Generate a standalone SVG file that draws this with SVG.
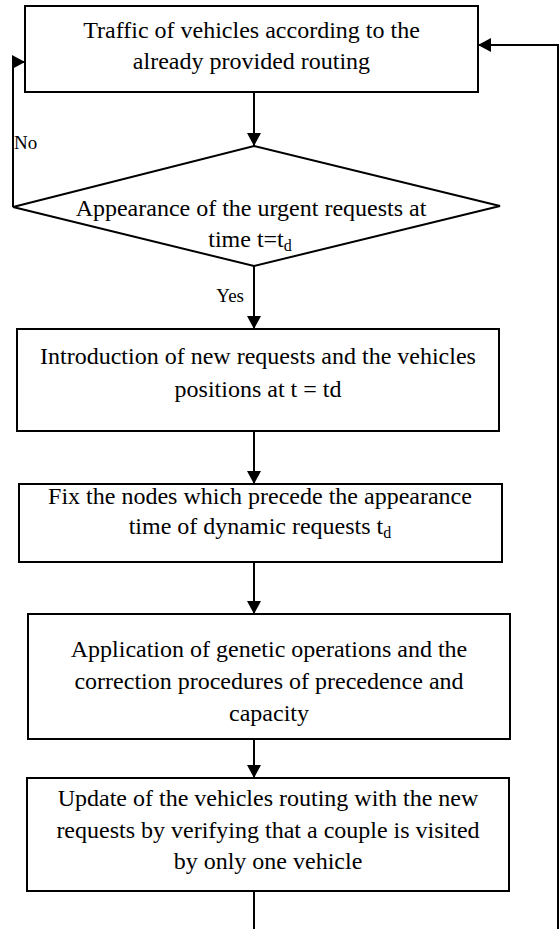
<svg xmlns="http://www.w3.org/2000/svg" width="560" height="929" viewBox="0 0 560 929">
  <style>
    .box { fill: #ffffff; stroke: #000000; stroke-width: 2; }
    text { font-family: 'Liberation Serif', Tinos, 'Times New Roman', 'DejaVu Serif', serif; fill: #000000; }
    .t { font-size: 24px; text-anchor: middle; }
    .lbl { font-size: 19px; }
    .sub { font-size: 16px; }
    .conn { fill: none; stroke: #000000; stroke-width: 2; }
  </style>
  <defs>
    <marker id="arrow" viewBox="0 0 13 14" refX="13" refY="7" markerWidth="13" markerHeight="14" markerUnits="userSpaceOnUse" orient="auto">
      <path d="M0,0 L13,7 L0,14 z" fill="#000000"/>
    </marker>
  </defs>
  <rect width="560" height="929" fill="#ffffff"/>

  <g id="connectors">
    <line class="conn" x1="254" y1="92" x2="254" y2="146" marker-end="url(#arrow)"/>
    <polyline class="conn" points="13,207 13,62 25,62" marker-end="url(#arrow)"/>
    <line class="conn" x1="254" y1="266" x2="254" y2="329" marker-end="url(#arrow)"/>
    <line class="conn" x1="254" y1="431" x2="254" y2="484" marker-end="url(#arrow)"/>
    <line class="conn" x1="254" y1="562" x2="254" y2="614" marker-end="url(#arrow)"/>
    <line class="conn" x1="254" y1="739" x2="254" y2="778" marker-end="url(#arrow)"/>
    <line class="conn" x1="254" y1="891" x2="254" y2="929"/>
    <polyline class="conn" points="558,929 558,45 478,45" marker-end="url(#arrow)"/>
    <text class="lbl" x="14" y="149" font-family="Liberation Serif, serif">No</text>
    <text class="lbl" x="244" y="302" text-anchor="end" font-family="Liberation Serif, serif">Yes</text>
  </g>

  <g id="traffic" font-family="Liberation Serif, serif">
    <rect class="box" x="25" y="6" width="453" height="86"/>
    <text class="t" x="251.5" y="38">Traffic of vehicles according to the</text>
    <text class="t" x="251.5" y="69">already provided routing</text>
  </g>

  <g id="decision">
    <polygon class="box" points="254,146 500,206 254,266 13,207"/>
    <text class="t" x="251" y="216">Appearance of the urgent requests at</text>
    <text class="t" x="250" y="247">time t=t<tspan class="sub" dy="4">d</tspan></text>
  </g>

  <g id="introduction">
    <rect class="box" x="17" y="329" width="482" height="102"/>
    <text class="t" x="258" y="364">Introduction of new requests and the vehicles</text>
    <text class="t" x="258" y="397">positions at t = td</text>
  </g>

  <g id="fix">
    <rect class="box" x="19" y="484" width="483" height="78"/>
    <text class="t" x="260" y="504">Fix the nodes which precede the appearance</text>
    <text class="t" x="260" y="534">time of dynamic requests t<tspan class="sub" dy="4">d</tspan></text>
  </g>

  <g id="genetic">
    <rect class="box" x="28" y="614" width="482" height="125"/>
    <text class="t" x="269" y="657">Application of genetic operations and the</text>
    <text class="t" x="269" y="689">correction procedures of precedence and</text>
    <text class="t" x="269" y="721">capacity</text>
  </g>

  <g id="update">
    <rect class="box" x="27" y="778" width="482" height="113"/>
    <text class="t" x="268" y="806">Update of the vehicles routing with the new</text>
    <text class="t" x="268" y="838">requests by verifying that a couple is visited</text>
    <text class="t" x="268" y="869">by only one vehicle</text>
  </g>
</svg>
